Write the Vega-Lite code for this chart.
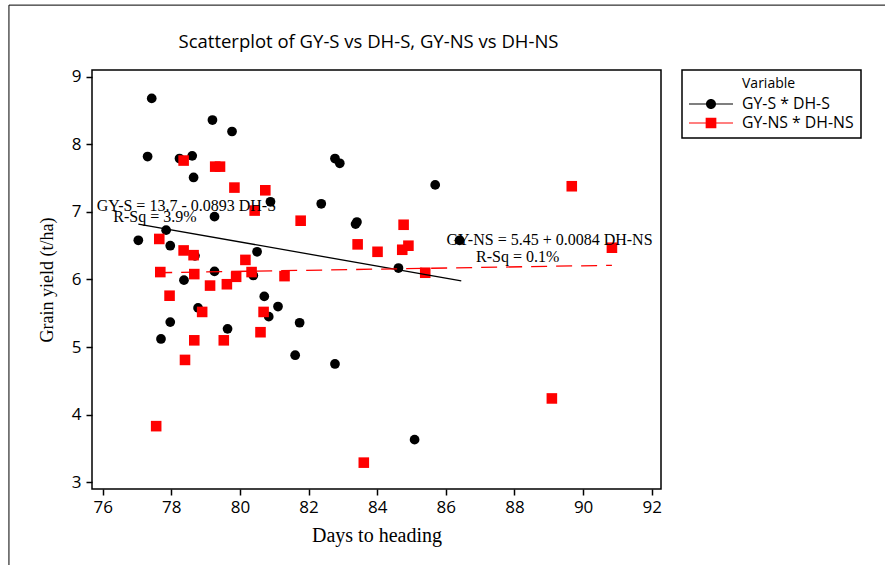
{
  "$schema": "https://vega.github.io/schema/vega-lite/v6.json",
  "width": 569,
  "height": 419,
  "autosize": {"type": "none"},
  "padding": {"left": 92, "top": 70, "right": 224, "bottom": 76},
  "background": "white",
  "title": {
    "text": "Scatterplot of GY-S vs DH-S, GY-NS vs DH-NS",
    "font": "Open Sans",
    "fontSize": 18.5,
    "fontWeight": "normal",
    "color": "black",
    "anchor": "middle",
    "frame": "group",
    "offset": -47,
    "dx": -8
  },
  "config": {
    "view": {"stroke": "black", "strokeWidth": 1.5},
    "axis": {
      "grid": false,
      "domain": false,
      "tickColor": "black",
      "tickWidth": 1.5,
      "tickSize": 6,
      "labelFont": "Open Sans",
      "labelFontSize": 17,
      "labelColor": "black",
      "titleFont": "Liberation Serif",
      "titleFontWeight": "normal",
      "titleColor": "black"
    }
  },
  "datasets": {
    "pts": [
      {"series": "GY-S * DH-S", "dh": 77.43, "gy": 8.68},
      {"series": "GY-S * DH-S", "dh": 79.20, "gy": 8.36},
      {"series": "GY-S * DH-S", "dh": 79.77, "gy": 8.19},
      {"series": "GY-S * DH-S", "dh": 77.31, "gy": 7.82},
      {"series": "GY-S * DH-S", "dh": 78.24, "gy": 7.79},
      {"series": "GY-S * DH-S", "dh": 78.61, "gy": 7.83},
      {"series": "GY-S * DH-S", "dh": 78.65, "gy": 7.51},
      {"series": "GY-S * DH-S", "dh": 80.89, "gy": 7.15},
      {"series": "GY-S * DH-S", "dh": 79.26, "gy": 6.93},
      {"series": "GY-S * DH-S", "dh": 77.85, "gy": 6.73},
      {"series": "GY-S * DH-S", "dh": 77.04, "gy": 6.58},
      {"series": "GY-S * DH-S", "dh": 77.97, "gy": 6.50},
      {"series": "GY-S * DH-S", "dh": 78.69, "gy": 6.35},
      {"series": "GY-S * DH-S", "dh": 80.50, "gy": 6.41},
      {"series": "GY-S * DH-S", "dh": 79.26, "gy": 6.12},
      {"series": "GY-S * DH-S", "dh": 78.37, "gy": 5.99},
      {"series": "GY-S * DH-S", "dh": 80.39, "gy": 6.06},
      {"series": "GY-S * DH-S", "dh": 80.71, "gy": 5.75},
      {"series": "GY-S * DH-S", "dh": 81.11, "gy": 5.60},
      {"series": "GY-S * DH-S", "dh": 78.78, "gy": 5.58},
      {"series": "GY-S * DH-S", "dh": 80.84, "gy": 5.45},
      {"series": "GY-S * DH-S", "dh": 77.97, "gy": 5.37},
      {"series": "GY-S * DH-S", "dh": 79.64, "gy": 5.27},
      {"series": "GY-S * DH-S", "dh": 77.70, "gy": 5.12},
      {"series": "GY-S * DH-S", "dh": 81.74, "gy": 5.36},
      {"series": "GY-S * DH-S", "dh": 81.61, "gy": 4.88},
      {"series": "GY-S * DH-S", "dh": 82.77, "gy": 4.75},
      {"series": "GY-S * DH-S", "dh": 84.62, "gy": 6.17},
      {"series": "GY-S * DH-S", "dh": 85.09, "gy": 3.63},
      {"series": "GY-S * DH-S", "dh": 82.77, "gy": 7.79},
      {"series": "GY-S * DH-S", "dh": 82.91, "gy": 7.72},
      {"series": "GY-S * DH-S", "dh": 85.69, "gy": 7.40},
      {"series": "GY-S * DH-S", "dh": 82.37, "gy": 7.12},
      {"series": "GY-S * DH-S", "dh": 83.37, "gy": 6.82},
      {"series": "GY-S * DH-S", "dh": 83.41, "gy": 6.85},
      {"series": "GY-S * DH-S", "dh": 86.40, "gy": 6.58},
      {"series": "GY-NS * DH-NS", "dh": 78.36, "gy": 7.76},
      {"series": "GY-NS * DH-NS", "dh": 79.28, "gy": 7.67},
      {"series": "GY-NS * DH-NS", "dh": 79.42, "gy": 7.67},
      {"series": "GY-NS * DH-NS", "dh": 79.84, "gy": 7.36},
      {"series": "GY-NS * DH-NS", "dh": 80.74, "gy": 7.32},
      {"series": "GY-NS * DH-NS", "dh": 80.43, "gy": 7.02},
      {"series": "GY-NS * DH-NS", "dh": 77.65, "gy": 6.60},
      {"series": "GY-NS * DH-NS", "dh": 78.36, "gy": 6.43},
      {"series": "GY-NS * DH-NS", "dh": 78.65, "gy": 6.36},
      {"series": "GY-NS * DH-NS", "dh": 80.16, "gy": 6.29},
      {"series": "GY-NS * DH-NS", "dh": 77.68, "gy": 6.11},
      {"series": "GY-NS * DH-NS", "dh": 78.67, "gy": 6.08},
      {"series": "GY-NS * DH-NS", "dh": 79.89, "gy": 6.04},
      {"series": "GY-NS * DH-NS", "dh": 80.34, "gy": 6.11},
      {"series": "GY-NS * DH-NS", "dh": 81.30, "gy": 6.05},
      {"series": "GY-NS * DH-NS", "dh": 79.13, "gy": 5.91},
      {"series": "GY-NS * DH-NS", "dh": 79.62, "gy": 5.93},
      {"series": "GY-NS * DH-NS", "dh": 77.95, "gy": 5.76},
      {"series": "GY-NS * DH-NS", "dh": 78.90, "gy": 5.52},
      {"series": "GY-NS * DH-NS", "dh": 80.69, "gy": 5.52},
      {"series": "GY-NS * DH-NS", "dh": 78.67, "gy": 5.10},
      {"series": "GY-NS * DH-NS", "dh": 79.53, "gy": 5.10},
      {"series": "GY-NS * DH-NS", "dh": 80.60, "gy": 5.22},
      {"series": "GY-NS * DH-NS", "dh": 78.40, "gy": 4.81},
      {"series": "GY-NS * DH-NS", "dh": 77.56, "gy": 3.83},
      {"series": "GY-NS * DH-NS", "dh": 81.77, "gy": 6.87},
      {"series": "GY-NS * DH-NS", "dh": 84.77, "gy": 6.81},
      {"series": "GY-NS * DH-NS", "dh": 83.43, "gy": 6.52},
      {"series": "GY-NS * DH-NS", "dh": 84.01, "gy": 6.41},
      {"series": "GY-NS * DH-NS", "dh": 84.91, "gy": 6.50},
      {"series": "GY-NS * DH-NS", "dh": 84.73, "gy": 6.44},
      {"series": "GY-NS * DH-NS", "dh": 85.40, "gy": 6.10},
      {"series": "GY-NS * DH-NS", "dh": 83.61, "gy": 3.29},
      {"series": "GY-NS * DH-NS", "dh": 89.67, "gy": 7.38},
      {"series": "GY-NS * DH-NS", "dh": 90.84, "gy": 6.47},
      {"series": "GY-NS * DH-NS", "dh": 89.09, "gy": 4.24}
    ],
    "fits": [
      {"series": "GY-S * DH-S", "dh": 77.04, "gy": 6.82},
      {"series": "GY-S * DH-S", "dh": 86.45, "gy": 5.98},
      {"series": "GY-NS * DH-NS", "dh": 77.56, "gy": 6.10},
      {"series": "GY-NS * DH-NS", "dh": 90.84, "gy": 6.21}
    ],
    "one": [{}]
  },
  "layer": [
    {
      "data": {"name": "one"},
      "mark": {"type": "rect", "fill": null, "stroke": "black", "strokeWidth": 1, "clip": false},
      "encoding": {
        "x": {"datum": 73.27, "type": "quantitative", "scale": {"domain": [75.69, 92.27], "nice": false, "zero": false}},
        "x2": {"datum": 100},
        "y": {"datum": 10.06, "type": "quantitative", "scale": {"domain": [2.9, 9.1], "nice": false, "zero": false}},
        "y2": {"datum": 1}
      }
    },
    {
      "data": {"name": "pts"},
      "transform": [{"filter": "datum.series === 'GY-S * DH-S'"}],
      "mark": {"type": "point", "shape": "circle", "size": 95, "filled": true, "opacity": 1, "strokeWidth": 0},
      "encoding": {
        "x": {
          "field": "dh", "type": "quantitative",
          "scale": {"domain": [75.69, 92.27], "nice": false, "zero": false},
          "axis": {"values": [76, 78, 80, 82, 84, 86, 88, 90, 92], "format": "d", "title": "Days to heading", "titleFontSize": 20, "titlePadding": 10, "labelPadding": 4}
        },
        "y": {
          "field": "gy", "type": "quantitative",
          "scale": {"domain": [2.9, 9.1], "nice": false, "zero": false},
          "axis": {"values": [3, 4, 5, 6, 7, 8, 9], "format": "d", "title": "Grain yield (t/ha)", "titleFontSize": 18, "titlePadding": 15, "labelPadding": 5}
        },
        "color": {
          "field": "series", "type": "nominal",
          "scale": {"domain": ["GY-S * DH-S", "GY-NS * DH-NS"], "range": ["#000000", "#ff0000"]},
          "legend": {
            "title": "Variable",
            "orient": "none",
            "legendX": 590,
            "legendY": 0,
            "strokeColor": "black",
            "fillColor": "white",
            "padding": 7,
            "titleFont": "Open Sans",
            "titleFontSize": 14,
            "titleFontWeight": "normal",
            "titleColor": "black",
            "titlePadding": 3,
            "labelFont": "Open Sans",
            "labelFontSize": 15.8,
            "labelColor": "black",
            "labelOffset": 21,
            "symbolOffset": 12,
            "symbolSize": 400,
            "rowPadding": 1,
            "encoding": {
              "legend": {"strokeWidth": {"value": 1.5}},
              "title": {"dx": {"value": 53}},
              "symbols": {
                "shape": {
                  "condition": {"test": "datum.value === 'GY-S * DH-S'", "value": "M-2.2,-0.05H-0.4V0.05H-2.2Z M0.4,-0.05H2.2V0.05H0.4Z M-0.5,0A0.5,0.5,0,1,1,0.5,0A0.5,0.5,0,1,1,-0.5,0Z"},
                  "value": "M-2.2,-0.05H-0.4V0.05H-2.2Z M0.4,-0.05H2.2V0.05H0.4Z M-0.535,-0.535H0.535V0.535H-0.535Z"
                },
                "size": {"value": 400},
                "strokeWidth": {"value": 0},
                "opacity": {"value": 1}
              }
            }
          }
        }
      }
    },
    {
      "data": {"name": "pts"},
      "transform": [{"filter": "datum.series === 'GY-NS * DH-NS'"}],
      "mark": {"type": "point", "shape": "square", "size": 112, "filled": true, "opacity": 1, "strokeWidth": 0},
      "encoding": {
        "x": {"field": "dh", "type": "quantitative"},
        "y": {"field": "gy", "type": "quantitative"},
        "color": {"field": "series", "type": "nominal"}
      }
    },
    {
      "data": {"name": "fits"},
      "transform": [{"filter": "datum.series === 'GY-S * DH-S'"}],
      "mark": {"type": "line", "color": "black", "strokeWidth": 1.3},
      "encoding": {
        "x": {"field": "dh", "type": "quantitative"},
        "y": {"field": "gy", "type": "quantitative"}
      }
    },
    {
      "data": {"name": "fits"},
      "transform": [{"filter": "datum.series === 'GY-NS * DH-NS'"}],
      "mark": {"type": "line", "color": "#ff0000", "strokeWidth": 1.3, "strokeDash": [16, 9]},
      "encoding": {
        "x": {"field": "dh", "type": "quantitative"},
        "y": {"field": "gy", "type": "quantitative"}
      }
    },
    {
      "data": {"name": "one"},
      "mark": {"type": "text", "text": "GY-S = 13.7 - 0.0893 DH-S", "font": "Liberation Serif", "fontSize": 16, "align": "left", "baseline": "middle", "color": "black"},
      "encoding": {"x": {"datum": 75.83, "type": "quantitative"}, "y": {"datum": 7.09, "type": "quantitative"}}
    },
    {
      "data": {"name": "one"},
      "mark": {"type": "text", "text": "R-Sq = 3.9%", "font": "Liberation Serif", "fontSize": 16, "align": "left", "baseline": "middle", "color": "black"},
      "encoding": {"x": {"datum": 76.31, "type": "quantitative"}, "y": {"datum": 6.92, "type": "quantitative"}}
    },
    {
      "data": {"name": "one"},
      "mark": {"type": "text", "text": "GY-NS = 5.45 + 0.0084 DH-NS", "font": "Liberation Serif", "fontSize": 16, "align": "left", "baseline": "middle", "color": "black"},
      "encoding": {"x": {"datum": 86.02, "type": "quantitative"}, "y": {"datum": 6.58, "type": "quantitative"}}
    },
    {
      "data": {"name": "one"},
      "mark": {"type": "text", "text": "R-Sq = 0.1%", "font": "Liberation Serif", "fontSize": 16, "align": "left", "baseline": "middle", "color": "black"},
      "encoding": {"x": {"datum": 86.88, "type": "quantitative"}, "y": {"datum": 6.34, "type": "quantitative"}}
    }
  ]
}
